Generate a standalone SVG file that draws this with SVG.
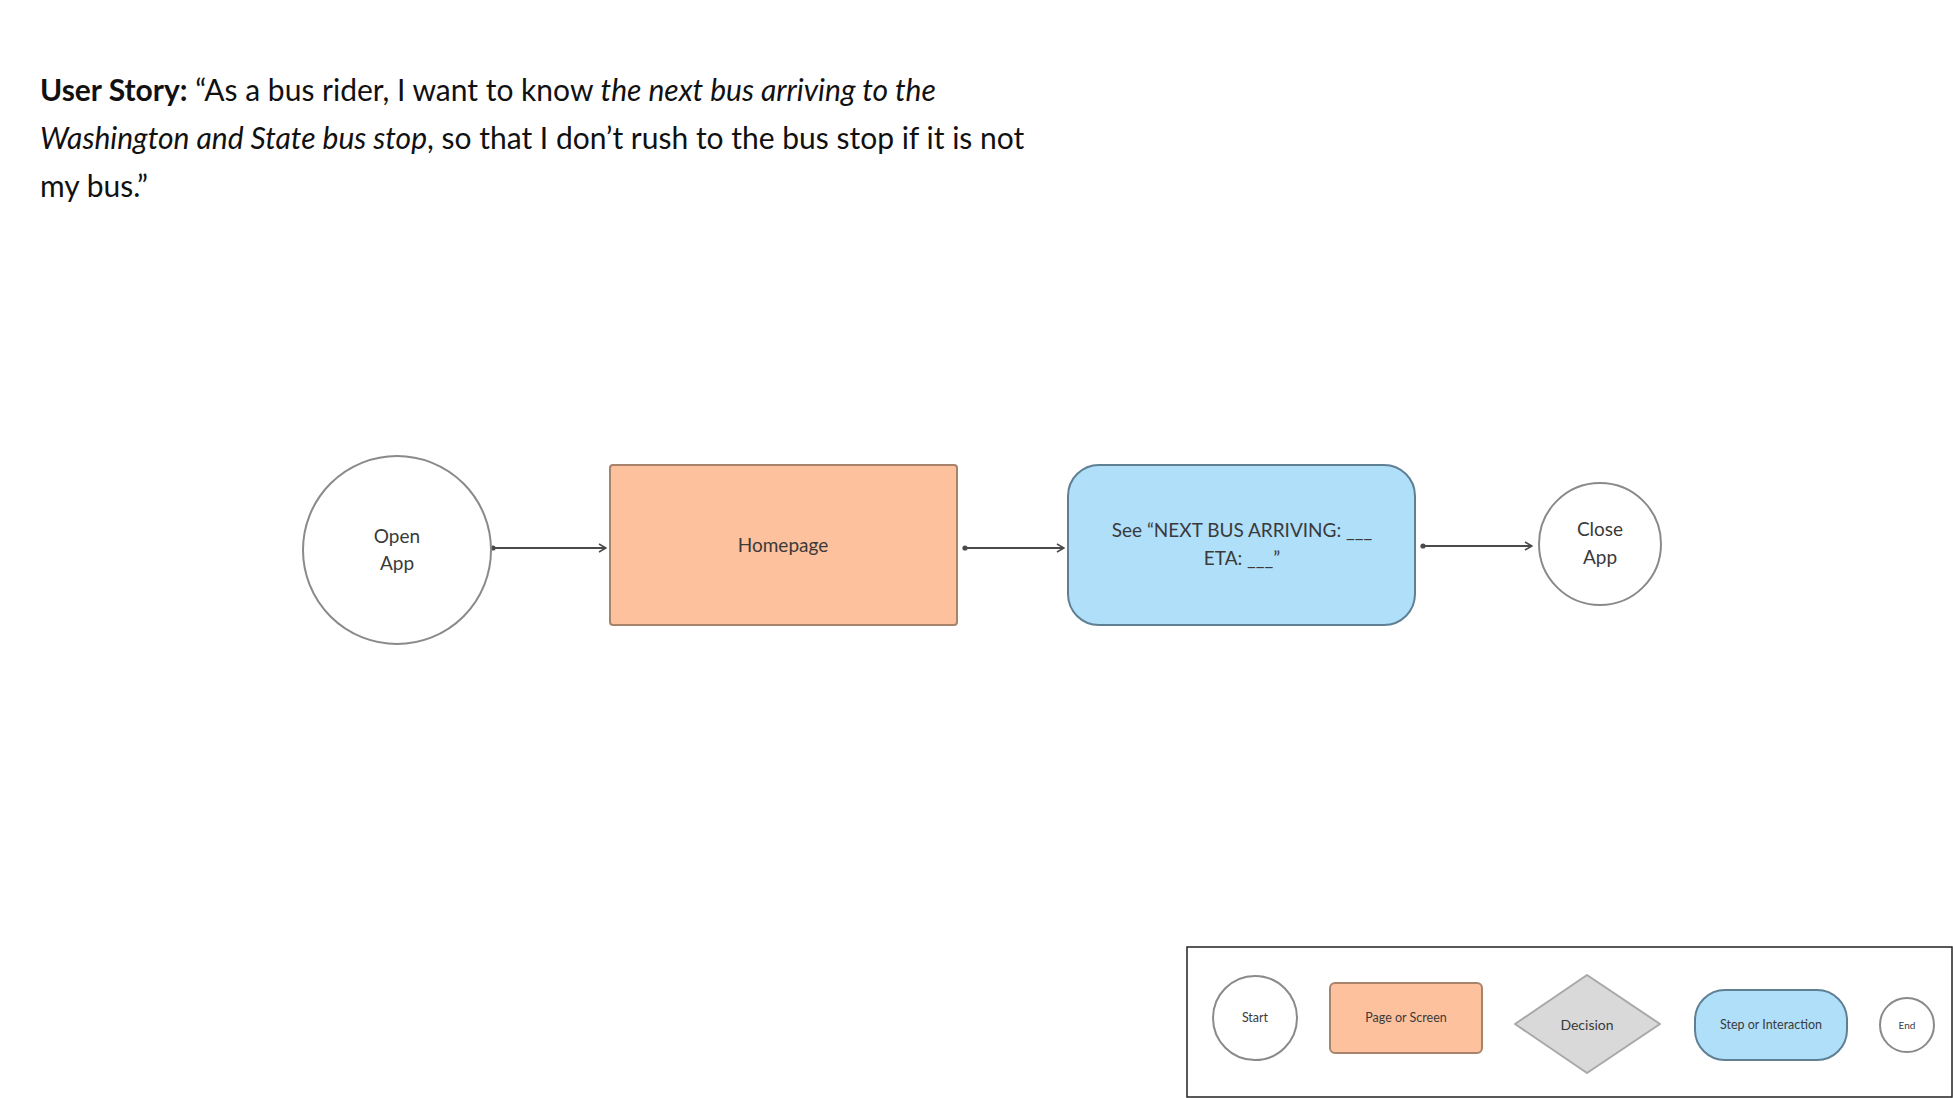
<svg xmlns="http://www.w3.org/2000/svg" width="1953" height="1098" viewBox="0 0 1953 1098">
<style>
text{font-family:Lato,"Open Sans","Liberation Sans",sans-serif;fill:#3a3a3a}
.n{font-size:19px;text-anchor:middle}
.l{font-size:12.5px;text-anchor:middle}
.c{fill:#fff;stroke:#8a8a8a;stroke-width:2}
.o{fill:#fec19e;stroke:#a8836c;stroke-width:2}
.b{fill:#b0dffa;stroke:#5f7f93;stroke-width:2}
.e{stroke:#4a4a4a;stroke-width:2;fill:none;marker-end:url(#a);marker-start:url(#d)}
</style>
<defs>
<marker id="a" viewBox="0 0 10 10" refX="9" refY="5" markerWidth="10" markerHeight="10" markerUnits="userSpaceOnUse" orient="auto"><path d="M2 1L9 5L2 9" fill="none" stroke="#4a4a4a" stroke-width="1.6"/></marker>
<marker id="d" viewBox="0 0 6 6" refX="3" refY="3" markerWidth="6" markerHeight="6" markerUnits="userSpaceOnUse"><circle cx="3" cy="3" r="2.6" fill="#4a4a4a"/></marker>
</defs>
<rect width="1953" height="1098" fill="#fff"/>
<text x="40" y="101" style="font-size:30px;fill:#111"><tspan font-weight="bold">User Story:</tspan> “As a bus rider, I want to know <tspan font-style="italic">the next bus arriving to the</tspan></text>
<text x="40" y="149" style="font-size:30px;fill:#111"><tspan font-style="italic">Washington and State bus stop</tspan>, so that I don’t rush to the bus stop if it is not</text>
<text x="40" y="197" style="font-size:30px;fill:#111">my bus.”</text>
<g id="edges">
<path class="e" d="M493 548H606"/>
<path class="e" d="M965 548H1064"/>
<path class="e" d="M1423 546H1532"/>
</g>
<g id="open"><circle class="c" cx="397" cy="550" r="94"/><text class="n" x="397" y="543">Open</text><text class="n" x="397" y="570">App</text></g>
<g id="home"><rect class="o" x="610" y="465" width="347" height="160" rx="3"/><text class="n" x="783" y="552">Homepage</text></g>
<g id="see"><rect class="b" x="1068" y="465" width="347" height="160" rx="31"/><text class="n" x="1242" y="537">See “NEXT BUS ARRIVING: ___</text><text class="n" x="1242" y="565">ETA: ___”</text></g>
<g id="close"><circle class="c" cx="1600" cy="544" r="61"/><text class="n" x="1600" y="536">Close</text><text class="n" x="1600" y="564">App</text></g>
<g id="legend">
<rect x="1187" y="947" width="765" height="150" fill="#fff" stroke="#222" stroke-width="1.5"/>
<circle class="c" cx="1255" cy="1018" r="42"/><text class="l" x="1255" y="1022">Start</text>
<rect class="o" x="1330" y="983" width="152" height="70" rx="5"/><text class="l" x="1406" y="1022">Page or Screen</text>
<path d="M1587 975L1660 1024L1587 1073L1515 1024Z" fill="#d9d9d9" stroke="#a8a8a8" stroke-width="2" stroke-linejoin="round"/><text class="l" x="1587" y="1030" style="font-size:14px">Decision</text>
<rect class="b" x="1695" y="990" width="152" height="70" rx="30"/><text class="l" x="1771" y="1029">Step or Interaction</text>
<circle class="c" cx="1907" cy="1025" r="27"/><text class="l" x="1907" y="1029" style="font-size:10px">End</text>
</g>
</svg>
